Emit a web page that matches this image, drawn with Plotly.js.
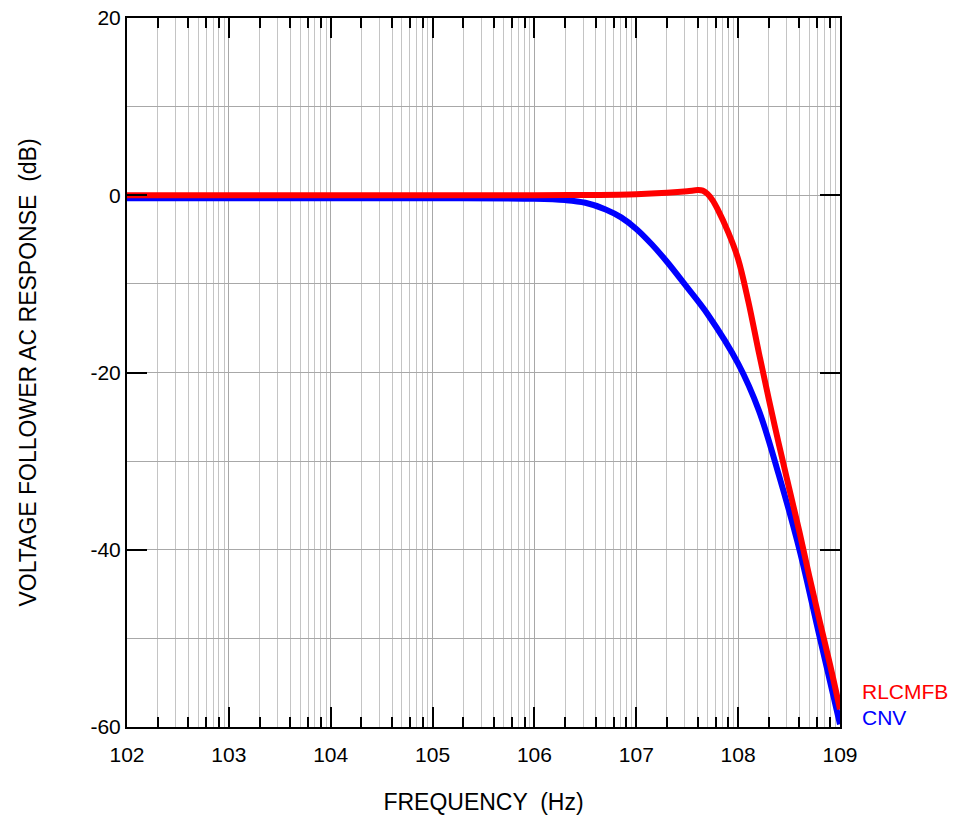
<!DOCTYPE html>
<html>
<head>
<meta charset="utf-8">
<script src="https://cdn.plot.ly/plotly-3.0.1.min.js"></script>
<style>html,body{margin:0;padding:0;background:#fff;}#chart{width:964px;height:817px;}</style>
</head>
<body>
<div id="chart"></div>
<script>
// Frequency (Hz) and response (dB)
const redFreq = [1e2, 1e3, 1e4, 1e5, 1e6, 3.16e6, 1e7, 2e7, 3.16e7, 4e7, 4.5e7, 5e7, 5.6e7, 6.3e7, 8e7, 1e8, 1.26e8, 1.6e8, 2e8, 2.5e8, 3.16e8, 4e8, 5e8, 6.3e8, 8e8, 1e9];
const redDb   = [0, 0, 0, 0, 0, 0.03, 0.12, 0.28, 0.45, 0.58, 0.52, 0.15, -0.55, -1.6, -4.2, -7.2, -12, -17.8, -23, -28, -33, -38, -43, -48, -53, -58];
const blueFreq = [1e2, 1e3, 1e4, 1e5, 1e6, 2e6, 3.16e6, 5e6, 7.1e6, 1e7, 1.41e7, 2e7, 3.16e7, 5e7, 1e8, 1.6e8, 2.5e8, 4e8, 6.3e8, 1e9];
const blueDb   = [-0.35, -0.35, -0.35, -0.35, -0.4, -0.55, -0.85, -1.6, -2.5, -3.8, -5.5, -7.5, -10.4, -13.4, -19.0, -24.3, -31.5, -40, -49.8, -59.7];

const decadeVals = [1e2, 1e3, 1e4, 1e5, 1e6, 1e7, 1e8, 1e9];
const decadeText = ['102', '103', '104', '105', '106', '107', '108', '109'];
const yTickVals = [-60, -40, -20, 0, 20];
const yTickText = ['-60', '-40', '-20', '0', '20'];
const yMinorVals = [-50, -30, -10, 10];

const minorGrid = [];
const minorEven = [];
for (let d = 2; d < 9; d++) {
  for (let m = 2; m <= 9; m++) {
    minorGrid.push(m * Math.pow(10, d));
    if (m % 2 === 0) minorEven.push(m * Math.pow(10, d));
  }
}

const font = 'Liberation Sans, Arial, sans-serif';

const traces = [
  {x: blueFreq, y: blueDb, type: 'scatter', mode: 'lines', name: 'CNV',
   line: {color: '#0000ff', width: 6, shape: 'spline', smoothing: 1}, hoverinfo: 'skip'},
  {x: redFreq, y: redDb, type: 'scatter', mode: 'lines', name: 'RLCMFB',
   line: {color: '#ff0000', width: 6, shape: 'spline', smoothing: 1}, hoverinfo: 'skip'},
  {x: [1e2, 1e9], y: [null, null], xaxis: 'x2', type: 'scatter', mode: 'lines', showlegend: false, hoverinfo: 'skip'}
];

const layout = {
  width: 964, height: 817,
  margin: {l: 127, r: 124, t: 18, b: 90},
  paper_bgcolor: '#fff', plot_bgcolor: '#fff',
  showlegend: false,
  font: {family: font, color: '#000', size: 21},
  xaxis: {
    type: 'log', range: [2, 9],
    tickmode: 'array', tickvals: decadeVals, ticktext: decadeText,
    ticks: 'inside', ticklen: 20, tickwidth: 2, tickcolor: '#000',
    showline: true, linewidth: 2, linecolor: '#000', mirror: 'ticks',
    showgrid: true, gridcolor: '#a8a8a8', gridwidth: 1,
    zeroline: false,
    minor: {tickmode: 'array', tickvals: minorGrid, showgrid: true, gridcolor: '#c4c4c4', gridwidth: 1, ticks: ''},
    tickfont: {size: 21, family: font},
    ticklabelstandoff: 8,
    title: {text: 'FREQUENCY \u00a0(Hz)', font: {size: 23, family: font}, standoff: 29}
  },
  xaxis2: {
    type: 'log', range: [2, 9], overlaying: 'x', anchor: 'y', side: 'bottom',
    tickmode: 'array', tickvals: minorEven,
    ticks: 'inside', ticklen: 10, tickwidth: 2, tickcolor: '#000',
    showticklabels: false, showgrid: false, showline: false, zeroline: false,
    mirror: 'ticks'
  },
  yaxis: {
    range: [-60, 20],
    tickmode: 'array', tickvals: yTickVals, ticktext: yTickText,
    ticks: 'inside', ticklen: 20, tickwidth: 2, tickcolor: '#000',
    showline: true, linewidth: 2, linecolor: '#000', mirror: 'ticks',
    showgrid: true, gridcolor: '#a8a8a8', gridwidth: 1,
    zeroline: false,
    minor: {tickmode: 'array', tickvals: yMinorVals, showgrid: true, gridcolor: '#a8a8a8', gridwidth: 1, ticks: ''},
    tickfont: {size: 21, family: font},
    title: {text: 'VOLTAGE FOLLOWER AC RESPONSE \u00a0(dB)', font: {size: 23, family: font}, standoff: 47}
  },
  annotations: [
    {x: 9, y: redDb[redDb.length - 1], xref: 'x', yref: 'y', text: 'RLCMFB', showarrow: false,
     xanchor: 'left', yanchor: 'middle', xshift: 20, yshift: 18, font: {color: '#ff0000', size: 21, family: font}},
    {x: 9, y: blueDb[blueDb.length - 1], xref: 'x', yref: 'y', text: 'CNV', showarrow: false,
     xanchor: 'left', yanchor: 'middle', xshift: 20, yshift: 7, font: {color: '#0000ff', size: 21, family: font}}
  ]
};

Plotly.newPlot('chart', traces, layout, {displayModeBar: false, staticPlot: true});
</script>
</body>
</html>
